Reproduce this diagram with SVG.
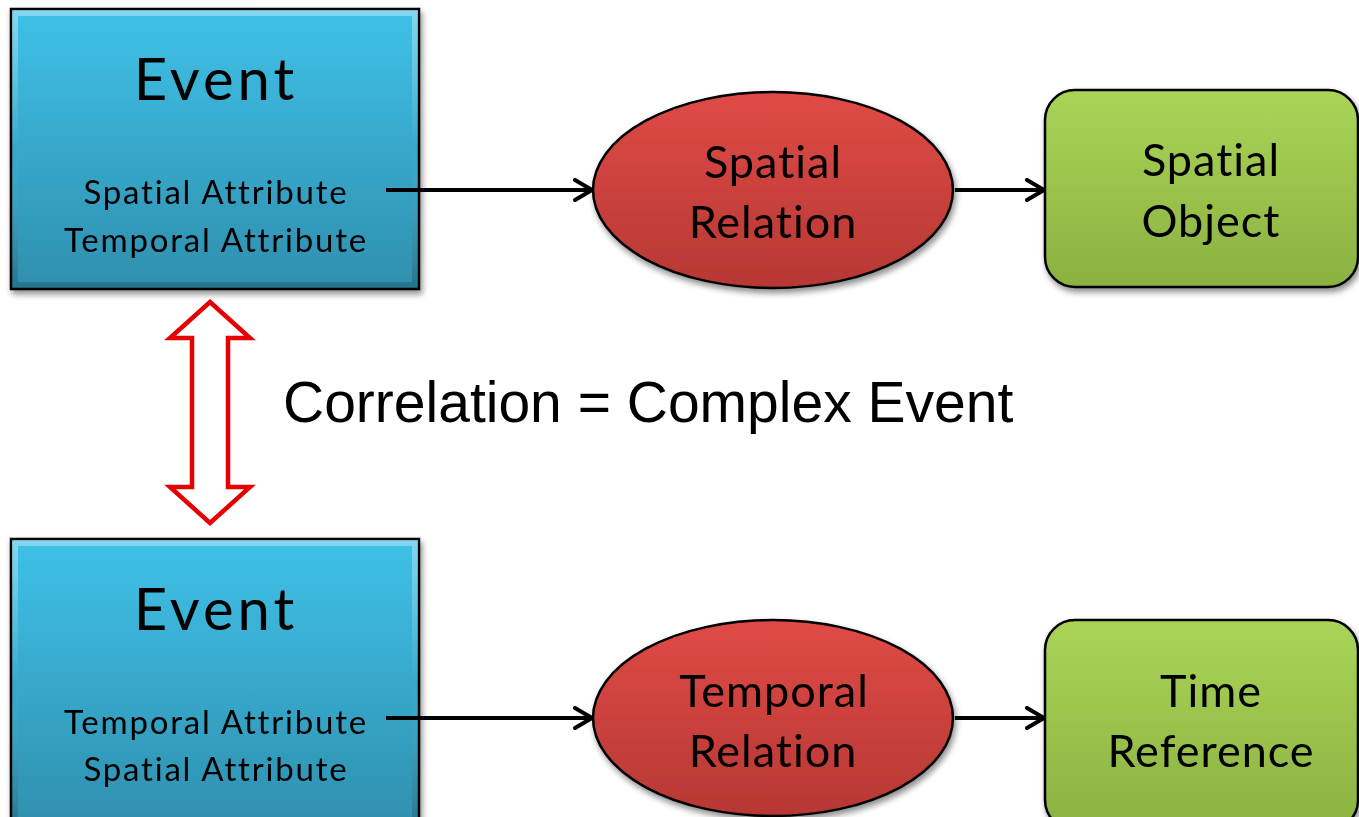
<svg xmlns="http://www.w3.org/2000/svg" width="1359" height="817" viewBox="0 0 1359 817">
  <defs>
    <linearGradient id="gBlue" x1="0" y1="0" x2="0" y2="1">
      <stop offset="0" stop-color="#3fc1e8"/>
      <stop offset="1" stop-color="#2f8fae"/>
    </linearGradient>
    <linearGradient id="gRed" x1="0" y1="0" x2="0" y2="1">
      <stop offset="0" stop-color="#e04a46"/>
      <stop offset="1" stop-color="#b63834"/>
    </linearGradient>
    <linearGradient id="gGreen" x1="0" y1="0" x2="0" y2="1">
      <stop offset="0" stop-color="#aad458"/>
      <stop offset="1" stop-color="#8bb140"/>
    </linearGradient>
    <linearGradient id="gBevel" x1="0" y1="0" x2="0" y2="1">
      <stop offset="0" stop-color="#ffffff" stop-opacity="0.35"/>
      <stop offset="0.5" stop-color="#ffffff" stop-opacity="0"/>
      <stop offset="1" stop-color="#000000" stop-opacity="0.18"/>
    </linearGradient>
    <filter id="shadow" x="-10%" y="-10%" width="125%" height="130%">
      <feGaussianBlur in="SourceAlpha" stdDeviation="3"/>
      <feOffset dx="2" dy="4" result="b"/>
      <feComponentTransfer><feFuncA type="linear" slope="0.45"/></feComponentTransfer>
      <feMerge><feMergeNode/><feMergeNode in="SourceGraphic"/></feMerge>
    </filter>
    <marker id="open" viewBox="0 0 24 24" markerWidth="24" markerHeight="24" refX="21" refY="12" markerUnits="userSpaceOnUse" orient="auto">
      <path d="M4 2 L21 12 L4 22" fill="none" stroke="#000" stroke-width="4" stroke-linecap="round" stroke-linejoin="round"/>
    </marker>
    <style>
      .edge { stroke: #000; stroke-width: 2.5; }
      .bevel { fill: none; stroke: url(#gBevel); stroke-width: 6; }
      text { font-variant-ligatures: none; }
      .big { font-family: Lato, "Noto Sans", sans-serif; font-size: 58px; letter-spacing: 4px; fill: #000; text-anchor: middle; }
      .attr { font-family: Lato, "Noto Sans", sans-serif; font-size: 33px; letter-spacing: 1.8px; fill: #000; text-anchor: middle; }
      .lbl { font-family: Lato, "Noto Sans", sans-serif; font-size: 45px; letter-spacing: 1px; fill: #000; text-anchor: middle; }
      .conn { stroke: #000; stroke-width: 4; fill: none; }
    </style>
  </defs>

  <rect width="1359" height="817" fill="#ffffff"/>

  <!-- Upper event -->
  <g id="event-top" filter="url(#shadow)">
    <rect x="11" y="9" width="408" height="280" fill="url(#gBlue)" class="edge"/>
    <rect x="15" y="13" width="400" height="272" class="bevel"/>
    <text x="216" y="100" class="big">Event</text>
    <text x="216" y="204" class="attr">Spatial Attribute</text>
    <text x="216" y="252" class="attr">Temporal Attribute</text>
  </g>

  <!-- Lower event -->
  <g id="event-bottom" filter="url(#shadow)">
    <rect x="11" y="539" width="408" height="290" fill="url(#gBlue)" class="edge"/>
    <rect x="15" y="543" width="400" height="282" class="bevel"/>
    <text x="216" y="630" class="big">Event</text>
    <text x="216" y="734" class="attr">Temporal Attribute</text>
    <text x="216" y="781" class="attr">Spatial Attribute</text>
  </g>

  <!-- Relations -->
  <g id="spatial-relation" filter="url(#shadow)">
    <ellipse cx="773" cy="190" rx="180" ry="98" fill="url(#gRed)" class="edge"/>
    <text x="773" y="178" class="lbl">Spatial</text>
    <text x="773" y="238" class="lbl">Relation</text>
  </g>
  <g id="temporal-relation" filter="url(#shadow)">
    <ellipse cx="773" cy="718" rx="180" ry="98" fill="url(#gRed)" class="edge"/>
    <text x="774" y="707" class="lbl">Temporal</text>
    <text x="773" y="767" class="lbl">Relation</text>
  </g>

  <!-- Targets -->
  <g id="spatial-object" filter="url(#shadow)">
    <rect x="1045" y="90" width="313" height="197" rx="30" ry="30" fill="url(#gGreen)" class="edge"/>
    <text x="1211" y="176" class="lbl">Spatial</text>
    <text x="1211" y="237" class="lbl">Object</text>
  </g>
  <g id="time-reference" filter="url(#shadow)">
    <rect x="1045" y="620" width="313" height="210" rx="30" ry="30" fill="url(#gGreen)" class="edge"/>
    <text x="1211" y="707" class="lbl">Time</text>
    <text x="1211" y="767" class="lbl">Reference</text>
  </g>

  <!-- Correlation label and double arrow -->
  <g id="correlation">
    <path d="M210 302 L250 338 L228 338 L228 487 L250 487 L210 523 L170 487 L192 487 L192 338 L170 338 Z" fill="#ffffff" stroke="#e60000" stroke-width="4.5" stroke-linejoin="miter"/>
    <text x="283" y="422" font-family="'Liberation Sans', Arial, sans-serif" font-size="57" fill="#000">Correlation = Complex Event</text>
  </g>

  <!-- Connectors -->
  <g id="connectors">
    <line x1="386" y1="190" x2="592" y2="190" class="conn" marker-end="url(#open)"/>
    <line x1="955" y1="190" x2="1044" y2="190" class="conn" marker-end="url(#open)"/>
    <line x1="386" y1="718" x2="592" y2="718" class="conn" marker-end="url(#open)"/>
    <line x1="955" y1="718" x2="1044" y2="718" class="conn" marker-end="url(#open)"/>
  </g>
</svg>
